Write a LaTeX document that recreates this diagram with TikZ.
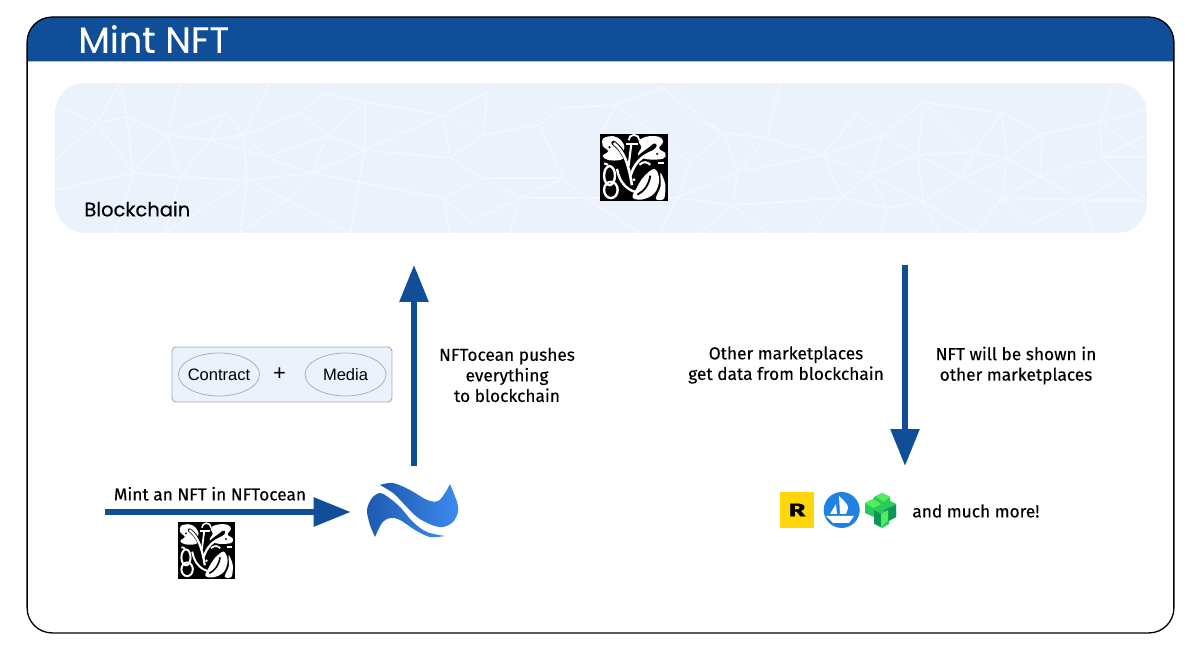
\documentclass[tikz,border=0pt]{standalone}
\usepackage{fontspec}
\setmainfont{Fira Sans}[FakeBold=0.2]
\newfontfamily\titlefont{Poppins}[FakeBold=0.3]
\newfontfamily\boxfont{Liberation Sans}
\definecolor{HeadBlue}{RGB}{16, 78, 152}
\definecolor{BandBlue}{RGB}{235, 242, 252}
\definecolor{MeshBlue}{RGB}{242, 246, 253}
\definecolor{BoxGrey}{RGB}{165, 170, 178}
\definecolor{WaveDark}{RGB}{30, 90, 175}
\definecolor{WaveLight}{RGB}{60, 140, 240}
\definecolor{SeaBlue}{RGB}{32, 129, 226}
\definecolor{RareYellow}{RGB}{255, 214, 10}
\definecolor{CubeMid}{RGB}{38, 205, 90}
\definecolor{CubeLight}{RGB}{85, 235, 90}
\definecolor{CubeDark}{RGB}{14, 150, 85}
\usetikzlibrary{arrows.meta, positioning, shapes.geometric}

\tikzset{
    pics/leafmark/.style={code={
        \begin{scope}[shift={(-0.5,-0.5)}]
            % Leaves
            \fill[white] plot[smooth cycle, tension=0.6] coordinates {(0.05,0.07) (0.2,0.04) (0.31,0.1) (0.36,0.2) (0.34,0.28) (0.38,0.33) (0.3,0.39) (0.12,0.39) (0.04,0.33) (0.12,0.26) (0.04,0.18)};
            \fill[white] plot[smooth cycle, tension=0.6] coordinates {(0.6,0.08) (0.72,0.04) (0.87,0.05) (0.93,0.12) (0.87,0.22) (0.96,0.29) (0.93,0.37) (0.7,0.38) (0.56,0.32) (0.61,0.2) (0.57,0.13)};
            \fill[white] plot[smooth cycle, tension=0.6] coordinates {(0.48,0.94) (0.54,0.8) (0.64,0.64) (0.8,0.52) (0.87,0.68) (0.8,0.88) (0.62,0.97)};
            \fill[white] plot[smooth cycle, tension=0.5] coordinates {(0.89,0.58) (0.96,0.75) (0.94,0.96) (0.82,0.96) (0.89,0.78)};
            % Stems
            \draw[black, line width=#1*1.7, line cap=round] (0.2,0.14) .. controls (0.35,0.25) and (0.4,0.4) .. (0.45,0.62);
            \draw[black, line width=#1*1.7, line cap=round] (0.8,0.18) .. controls (0.7,0.28) and (0.55,0.32) .. (0.5,0.5);
            \draw[white, line width=#1] (0.2,0.14) .. controls (0.35,0.25) and (0.42,0.45) .. (0.47,0.76);
            \draw[white, line width=#1] (0.45,0.62) .. controls (0.5,0.45) and (0.6,0.33) .. (0.8,0.26);
            \draw[white, line width=#1*0.8] (0.46,0.16) -- (0.42,0.48);
            \draw[white, line width=#1*0.7] (0.42,0.1) arc[start angle=180, end angle=360, radius=0.08];
            \draw[white, line width=#1*0.7] (0.38,0.16) -- (0.56,0.16);
            % Knot
            \draw[white, line width=#1*0.9] (0.14,0.62) ellipse[x radius=0.08, y radius=0.14];
            \draw[white, line width=#1*0.9] (0.16,0.83) ellipse[x radius=0.1, y radius=0.12];
            \draw[white, line width=#1*0.9] (0.25,0.52) .. controls (0.28,0.7) and (0.38,0.82) .. (0.52,0.86);
            \draw[white, line width=#1*0.8] (0.06,0.44) -- (0.12,0.46);
            \draw[white, line width=#1*0.8] (0.58,0.46) .. controls (0.64,0.4) and (0.7,0.42) .. (0.74,0.46);
            \draw[white, line width=#1*0.8] (0.86,0.44) -- (0.94,0.44);
            % Cuts in the lower leaf
            \draw[black, line width=#1*0.7] (0.55,0.9) .. controls (0.65,0.85) and (0.72,0.75) .. (0.74,0.62);
            \fill[white] (0.5,0.68) circle[radius=0.025];
            \fill[black] (0.14,0.2) circle[radius=0.018];
            \fill[black] (0.84,0.3) circle[radius=0.018];
        \end{scope}
    }}
}

\begin{document}
\begin{tikzpicture}[
        x=0.02cm, y=-0.02cm,
        frame/.style={rectangle, draw=black, line width=0.75pt, rounded corners=0.5cm, minimum width=22.94cm, minimum height=12.32cm},
        band/.style={rectangle, fill=BandBlue, rounded corners=0.6cm, minimum width=21.84cm, minimum height=3cm},
        meshline/.style={MeshBlue, line width=1pt},
        headline/.style={font=\titlefont\fontsize{20.8}{24}\selectfont, text=white, inner sep=0pt},
        note/.style={font=\fontsize{9.85}{11.7}\selectfont, align=center, inner sep=0pt},
        payload/.style={rectangle, draw=BoxGrey, fill=BandBlue, rounded corners=0.08cm, line width=0.5pt, minimum width=4.4cm, minimum height=1.1cm},
        part/.style={ellipse, draw=BoxGrey, line width=0.4pt, font=\boxfont\fontsize{9.4}{11}\selectfont, minimum width=1.62cm, minimum height=0.86cm, inner xsep=-1.8pt, inner ysep=0pt},
        leafbox/.style={rectangle, fill=black, inner sep=0pt},
        flow/.style={-{Triangle[length=0.74cm, width=0.56cm]}, HeadBlue, line width=3.3pt}
    ]
        \useasboundingbox (0,0) rectangle (1200,651);

        % Frame
        \fill[HeadBlue] (27,61.5) [rounded corners=0.5cm] -- (27,17) -- (1174,17) [sharp corners] -- (1174,61.5) -- cycle;
        \node[frame] (frame) at (600.5,325) {};
        \node[headline, anchor=west] (title) at (78,39) {Mint NFT};

        % Blockchain
        \node[band] (chain) at (601,158) {};
        \begin{scope}
            \clip[rounded corners=0.6cm] (55,83) rectangle (1147,233);
            \draw[meshline] (55,105) -- (97,123) -- (127,117) -- (167,135) -- (227,113) -- (243,135) -- (300,113) -- (325,93) -- (365,102) -- (443,115) -- (483,135) -- (540,125) -- (560,108) -- (617,105) -- (663,87) -- (687,112) -- (723,133) -- (767,138) -- (823,155) -- (857,113) -- (883,135) -- (923,102) -- (1002,113) -- (1042,134) -- (1100,122) -- (1147,110);
            \draw[meshline] (55,160) -- (97,123) -- (133,173) -- (180,177) -- (210,140) -- (267,157) -- (328,135) -- (365,102);
            \draw[meshline] (55,190) -- (133,173) -- (167,135) -- (210,140) -- (243,135) -- (247,180) -- (312,173) -- (328,135) -- (300,113);
            \draw[meshline] (97,123) -- (120,83) -- (127,117) -- (133,173) -- (115,233);
            \draw[meshline] (180,177) -- (247,180) -- (287,200) -- (312,173) -- (365,150) -- (450,158) -- (483,135) -- (487,92) -- (443,115) -- (450,158) -- (483,178) -- (563,178) -- (540,125) -- (483,135);
            \draw[meshline] (180,177) -- (165,233) -- (247,180) -- (240,233) -- (287,200) -- (350,233) -- (365,150) -- (328,135);
            \draw[meshline] (312,173) -- (443,198) -- (470,222) -- (520,198) -- (585,198) -- (563,178) -- (520,198) -- (483,178) -- (443,198) -- (450,233);
            \draw[meshline] (365,102) -- (365,150) -- (443,115);
            \draw[meshline] (227,113) -- (210,140) -- (243,135) -- (267,157) -- (312,173);
            \draw[meshline] (180,83) -- (167,135) -- (180,177);
            \draw[meshline] (270,83) -- (243,135);
            \draw[meshline] (470,222) -- (443,198);
            \draw[meshline] (520,198) -- (510,233);
            \draw[meshline] (585,198) -- (640,233);
            \draw[meshline] (560,108) -- (617,105) -- (600,133);
            \draw[meshline] (617,105) -- (690,163) -- (677,198) -- (737,172) -- (733,205) -- (767,233);
            \draw[meshline] (723,133) -- (737,172) -- (823,155) -- (868,175) -- (843,198) -- (823,155) -- (767,138) -- (737,172);
            \draw[meshline] (690,163) -- (723,133);
            \draw[meshline] (663,87) -- (723,133) -- (767,138) -- (780,83);
            \draw[meshline] (677,198) -- (660,233);
            \draw[meshline] (733,205) -- (700,233);
            \draw[meshline] (843,198) -- (810,233);
            \draw[meshline] (585,198) -- (677,198) -- (733,205) -- (843,198) -- (887,208) -- (923,202) -- (962,178) -- (1007,158) -- (1040,177) -- (1102,157) -- (1147,135);
            \draw[meshline] (857,113) -- (823,155) -- (883,135) -- (918,155) -- (973,152) -- (1002,113) -- (1007,158) -- (973,152) -- (923,102) -- (883,135) -- (868,175) -- (918,155) -- (962,178) -- (973,152);
            \draw[meshline] (868,175) -- (923,202) -- (918,155) -- (923,102);
            \draw[meshline] (868,175) -- (887,208) -- (880,233);
            \draw[meshline] (962,178) -- (1002,198) -- (1040,177) -- (1082,200) -- (1120,177) -- (1102,157) -- (1100,122) -- (1042,134) -- (1040,177);
            \draw[meshline] (1042,134) -- (1007,158) -- (1002,198) -- (975,233) -- (923,202) -- (940,233);
            \draw[meshline] (1002,198) -- (1082,200) -- (1030,225) -- (1002,198);
            \draw[meshline] (1082,200) -- (1095,233);
            \draw[meshline] (1120,177) -- (1147,200) -- (1082,200);
            \draw[meshline] (1100,122) -- (1147,157) -- (1102,157);
            \draw[meshline] (1100,122) -- (1115,83);
        \end{scope}
        \node[font=\titlefont\fontsize{11.1}{13}\selectfont, inner sep=0pt, anchor=west] (chainname) at (84,209) {Blockchain};
        \node[leafbox, minimum size=1.36cm] (chainmark) at (634,167.5) {};
        \pic[scale=68] at (chainmark) {leafmark=1.5pt};

        % Contract and media
        \node[payload] (payload) at (282,374.5) {};
        \node[part] (contract) at (219,374.5) {Contract};
        \node[part] (media) at (345.5,374.5) {Media};
        \node[font=\boxfont\fontsize{12.5}{14}\selectfont, inner sep=0pt] (plus) at (279.5,374) {+};

        % NFTocean
        \node[minimum width=2.52cm, minimum height=1.04cm, inner sep=0pt] (ocean) at (414,510) {};
        \shade[left color=WaveDark, right color=WaveLight] plot[smooth, tension=0.55] coordinates {(380,485) (393,483) (410,490) (427,500) (438,501) (445,493) (450,484)} -- plot[smooth, tension=0.55] coordinates {(450,484) (457,502) (458,512) (453,522) (443,527) (432,525) (417,517) (403,503) (393,493) (380,485)} -- cycle;
        \shade[left color=WaveDark, right color=WaveLight] plot[smooth, tension=0.55] coordinates {(375,537) (370,525) (367,510) (372,498) (380,493) (388,497) (400,507) (413,522) (427,532) (445,536)} -- plot[smooth, tension=0.55] coordinates {(445,536) (430,537) (415,530) (400,520) (390,518) (382,523) (375,537)} -- cycle;

        % Minting
        \coordinate (mintstart) at (105,512);
        \draw[flow] (mintstart) -- (ocean.west |- mintstart);
        \node[note, anchor=south] (mintnote) at (210,501) {Mint an NFT in NFTocean};
        \node[leafbox, minimum size=1.14cm] (mintmark) at (206.5,550.5) {};
        \pic[scale=57] at (mintmark) {leafmark=1.25pt};

        % Pushing up
        \coordinate (pushtip) at (414,265);
        \draw[flow, shorten <=0.36cm] (ocean.north) -- (pushtip);
        \node[note] (pushnote) at (507,375) {NFTocean pushes\\everything\\to blockchain};

        % Pulling down
        \coordinate (pulltip) at (905,466);
        \draw[flow, shorten <=0.64cm] (chain.south -| pulltip) -- (pulltip);
        \node[note] (pullnote) at (786,365) {Other marketplaces\\get data from blockchain};
        \node[note] (shownote) at (1016,365.5) {NFT will be shown in\\other marketplaces};

        % Marketplaces
        \node[rectangle, fill=RareYellow, minimum width=0.68cm, minimum height=0.72cm, inner sep=0pt, font=\fontsize{10.5}{11}\selectfont\bfseries] (rarible) at (797,510) {\scalebox{1.5}[1]{R}};
        \node[circle, fill=SeaBlue, minimum size=0.72cm, inner sep=0pt, right=0.18cm of rarible] (opensea) {};
        \fill[white] plot[smooth, tension=0.6] coordinates {(839,496) (845,502) (848,507) (846,514)} -- (840,514) -- cycle;
        \fill[white] (836,504) -- (837,514) -- (830,514) -- cycle;
        \fill[white] (826,516) -- (854,516) -- (849,523) -- (833,523) -- cycle;
        \node[minimum size=0.68cm, inner sep=0pt, right=0.18cm of opensea] (looks) {};
        \fill[CubeMid] (882,493) -- (890,497) -- (890,501) -- (896,504) -- (896,517) -- (889,521) -- (889,524) -- (882,528) -- (874,524) -- (874,517) -- (865,513) -- (865,503) -- (873,499) -- (874,497) -- cycle;
        \fill[CubeLight] (882,493) -- (890,497) -- (884,502) -- (876,497) -- cycle;
        \fill[CubeLight] (865,503) -- (873,499) -- (881,504) -- (873,508) -- cycle;
        \fill[CubeDark] (884,510) -- (896,505) -- (896,517) -- (888,521) -- cycle;
        \fill[CubeDark] (874,510) -- (881,514) -- (881,527) -- (874,523) -- cycle;
        \fill[CubeLight] (881,514) -- (888,510) -- (888,520) -- (881,527) -- cycle;
        \node[note, anchor=west] (morenote) at (912,511) {and much more!};
    \end{tikzpicture}
\end{document}
